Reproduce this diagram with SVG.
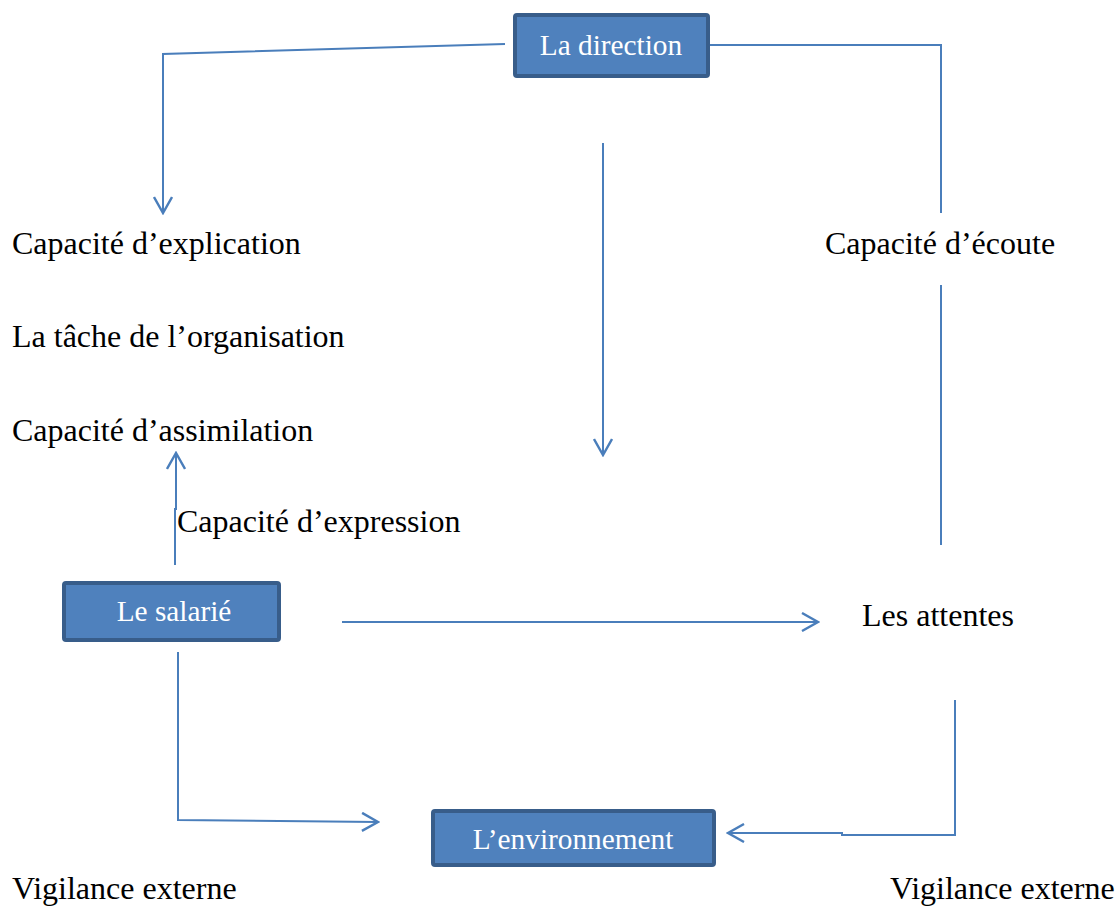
<svg xmlns="http://www.w3.org/2000/svg" width="1119" height="906" viewBox="0 0 1119 906">
  <style>
    .box { fill: #4F81BD; stroke: #385D8A; stroke-width: 4; }
    .boxlabel { font-family: "Liberation Serif", "Times New Roman", serif; font-size: 29.3px; fill: #FFFFFF; text-anchor: middle; }
    .label { font-family: "Liberation Serif", "Times New Roman", serif; font-size: 32px; fill: #000000; }
    .wire { fill: none; stroke: #4A7EBB; stroke-width: 2; }
  </style>
  <defs>
    <marker id="arrow" viewBox="0 0 20 20" refX="18" refY="10" markerWidth="20" markerHeight="20" markerUnits="userSpaceOnUse" orient="auto">
      <path d="M2,1 L18,10 L2,19" fill="none" stroke="#4A7EBB" stroke-width="2.4"/>
    </marker>
  </defs>
  <rect width="1119" height="906" fill="#FFFFFF"/>

  <g id="connectors">
    <!-- direction to explication -->
    <path class="wire" d="M505,44 L163,54 L163,213" marker-end="url(#arrow)"/>
    <!-- direction to écoute (right side) -->
    <path class="wire" d="M710,45 L941,45 L941,213"/>
    <path class="wire" d="M941,285 L941,545"/>
    <!-- middle downward arrow -->
    <path class="wire" d="M603,143 L603,455" marker-end="url(#arrow)"/>
    <!-- salarié upward to assimilation -->
    <path class="wire" d="M175,565 L175,509 L176,509 L176,453" marker-end="url(#arrow)"/>
    <!-- salarié to attentes -->
    <path class="wire" d="M342,622 L818,622" marker-end="url(#arrow)"/>
    <!-- salarié to environnement -->
    <path class="wire" d="M178,652 L178,820 L378,822" marker-end="url(#arrow)"/>
    <!-- attentes to environnement -->
    <path class="wire" d="M955,700 L955,835 L842,835 L842,833 L728,833" marker-end="url(#arrow)"/>
  </g>

  <g id="node-direction">
    <rect class="box" x="515" y="15" width="193" height="61" rx="2"/>
    <text class="boxlabel" x="611" y="55">La direction</text>
  </g>

  <g id="node-salarie">
    <rect class="box" x="64" y="583" width="215" height="57" rx="2"/>
    <text class="boxlabel" x="174" y="621">Le salarié</text>
  </g>

  <g id="node-environnement">
    <rect class="box" x="433" y="811" width="281" height="54" rx="2"/>
    <text class="boxlabel" x="573" y="849">L’environnement</text>
  </g>

  <g id="labels">
    <text class="label" x="12" y="254">Capacité d’explication</text>
    <text class="label" x="825" y="254">Capacité d’écoute</text>
    <text class="label" x="12" y="347">La tâche de l’organisation</text>
    <text class="label" x="12" y="441">Capacité d’assimilation</text>
    <text class="label" x="177" y="532">Capacité d’expression</text>
    <text class="label" x="862" y="626">Les attentes</text>
    <text class="label" x="12" y="899">Vigilance externe</text>
    <text class="label" x="890" y="899">Vigilance externe</text>
  </g>
</svg>
